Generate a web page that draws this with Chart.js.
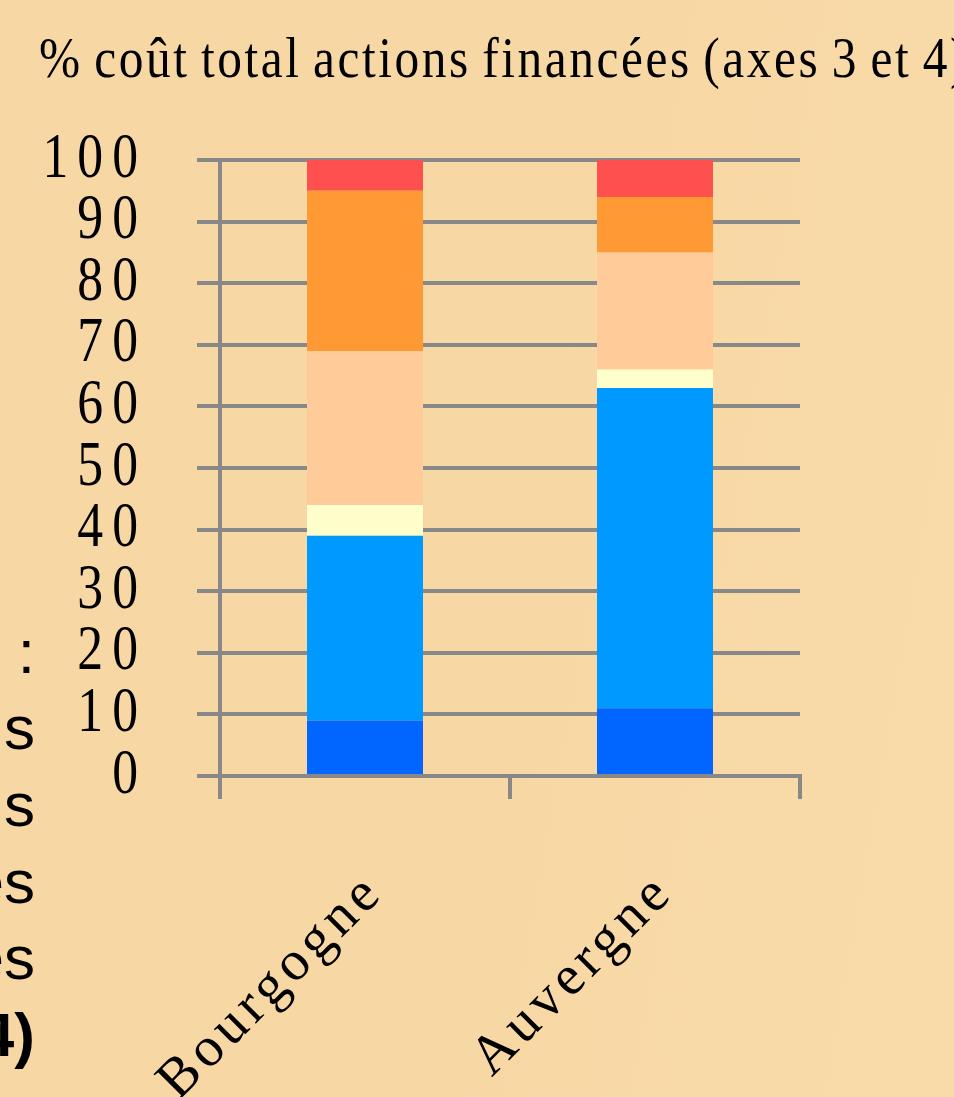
<!DOCTYPE html>
<html lang="fr">
<head>
<meta charset="utf-8">
<title>% coût total actions financées</title>
<script src="https://cdn.jsdelivr.net/npm/chart.js@4/dist/chart.umd.min.js"></script>
<style>
  html, body { margin: 0; padding: 0; }
  body {
    width: 954px; height: 1097px; overflow: hidden; position: relative;
    background: linear-gradient(100deg, #F7D7A4 0%, #F7D8A5 55%, #F9DBA9 100%);
  }
  #title {
    position: absolute; left: 39px; top: 24px; white-space: nowrap;
    font-family: "Liberation Serif", "DejaVu Serif", serif; font-size: 58px;
    letter-spacing: 3px; word-spacing: -4px; color: #000; line-height: normal;
    transform-origin: 0 0;
  }
  .side {
    position: absolute; right: 919px; white-space: nowrap; text-align: right;
    font-family: "Liberation Sans", Arial, sans-serif; font-size: 62px;
    color: #000; line-height: normal;
  }
  #wrap { position: absolute; left: 0; top: 0; width: 954px; height: 1097px; }
</style>
</head>
<body>
<div id="title">% coût total actions financées (axes 3 et 4)</div>
<div class="side" style="top:616px"> :</div>
<div class="side" style="top:692px">s</div>
<div class="side" style="top:769px">s</div>
<div class="side" style="top:846px">es</div>
<div class="side" style="top:922px">es</div>
<div class="side" style="top:999px;font-weight:bold">4)</div>
<div id="wrap"><canvas id="c"></canvas></div>
<script>
// ---- data ----
const categories = ['Bourgogne', 'Auvergne'];
const seriesNames = ['Série 1', 'Série 2', 'Série 3', 'Série 4', 'Série 5', 'Série 6'];
const serie1 = [9, 11];   // dark blue (bottom)
const serie2 = [30, 52];  // blue
const serie3 = [5, 3];    // pale yellow
const serie4 = [25, 19];  // peach
const serie5 = [26, 9];   // orange
const serie6 = [5, 6];    // red (top)
const yTicks = [0, 10, 20, 30, 40, 50, 60, 70, 80, 90, 100];

const colors = ['#0066FF', '#0099FF', '#FFFFCC', '#FFCC99', '#FF9933', '#FF5050'];
const allSeries = [serie1, serie2, serie3, serie4, serie5, serie6];

// condense the title horizontally to match the original narrow lettering
(function fitTitle() {
  const t = document.getElementById('title');
  const w = t.getBoundingClientRect().width;
  const target = 930;
  t.style.transform = 'scaleX(' + (target / w) + ')';
})();

const W = 954, H = 1097;
const chartLeft = 220, chartRight = 800, chartTop = 160, chartBottom = 776;
const Y_TICK_LEN = 23, Y_PAD = 50, Y_SQUEEZE = 0.82;

// per-axis lettering: spaced digits (y, narrowed) and spaced category names (x)
const letteringPlugin = {
  id: 'lettering',
  afterLayout(chart) {
    const y = chart.scales.y, x = chart.scales.x;
    if (y && !y._lettered) {
      const orig = y.drawLabels.bind(y);
      y.drawLabels = function (area) {
        const ctx = this.ctx;
        ctx.save();
        const ax = this.right - Y_TICK_LEN - Y_PAD;
        ctx.translate(ax, 0); ctx.scale(Y_SQUEEZE, 1); ctx.translate(-ax, 0);
        ctx.letterSpacing = '11px';
        orig(area);
        ctx.restore();
      };
      y._lettered = true;
    }
    if (x && !x._lettered) {
      const origX = x.drawLabels.bind(x);
      x.drawLabels = function (area) {
        const ctx = this.ctx;
        ctx.save();
        ctx.letterSpacing = '5px';
        origX(area);
        ctx.restore();
      };
      x._lettered = true;
    }
  }
};

new Chart(document.getElementById('c'), {
  type: 'bar',
  data: {
    labels: categories,
    datasets: allSeries.map((d, i) => ({
      label: seriesNames[i],
      data: d,
      backgroundColor: colors[i],
      borderWidth: 0,
      barPercentage: 0.4,
      categoryPercentage: 1.0
    }))
  },
  plugins: [letteringPlugin],
  options: {
    responsive: true,
    maintainAspectRatio: false,
    animation: false,
    events: [],
    layout: { padding: { top: chartTop, right: W - chartRight, left: 0, bottom: 0 } },
    plugins: { legend: { display: false }, tooltip: { enabled: false }, title: { display: false } },
    scales: {
      x: {
        stacked: true,
        offset: true,
        afterFit(scale) { scale.height = H - chartBottom; },
        grid: { offset: true, drawOnChartArea: false, drawTicks: true, tickLength: 23, color: '#888888', lineWidth: 4 },
        border: { display: true, color: '#888888', width: 4 },
        ticks: {
          color: '#000', maxRotation: 45, minRotation: 45, padding: 61, labelOffset: 10, autoSkip: false,
          font: { family: '"Liberation Serif", "DejaVu Serif", serif', size: 56 }
        }
      },
      y: {
        stacked: true,
        min: 0, max: 100,
        afterFit(scale) { scale.width = chartLeft; },
        afterBuildTicks(scale) { scale.ticks = yTicks.map(v => ({ value: v })); },
        grid: { color: '#888888', lineWidth: 4, tickLength: Y_TICK_LEN, drawTicks: true },
        border: { display: true, color: '#888888', width: 4 },
        ticks: {
          color: '#000', padding: Y_PAD, autoSkip: false,
          font: { family: '"Liberation Serif", "DejaVu Serif", serif', size: 63 }
        }
      }
    }
  }
});
</script>
</body>
</html>
